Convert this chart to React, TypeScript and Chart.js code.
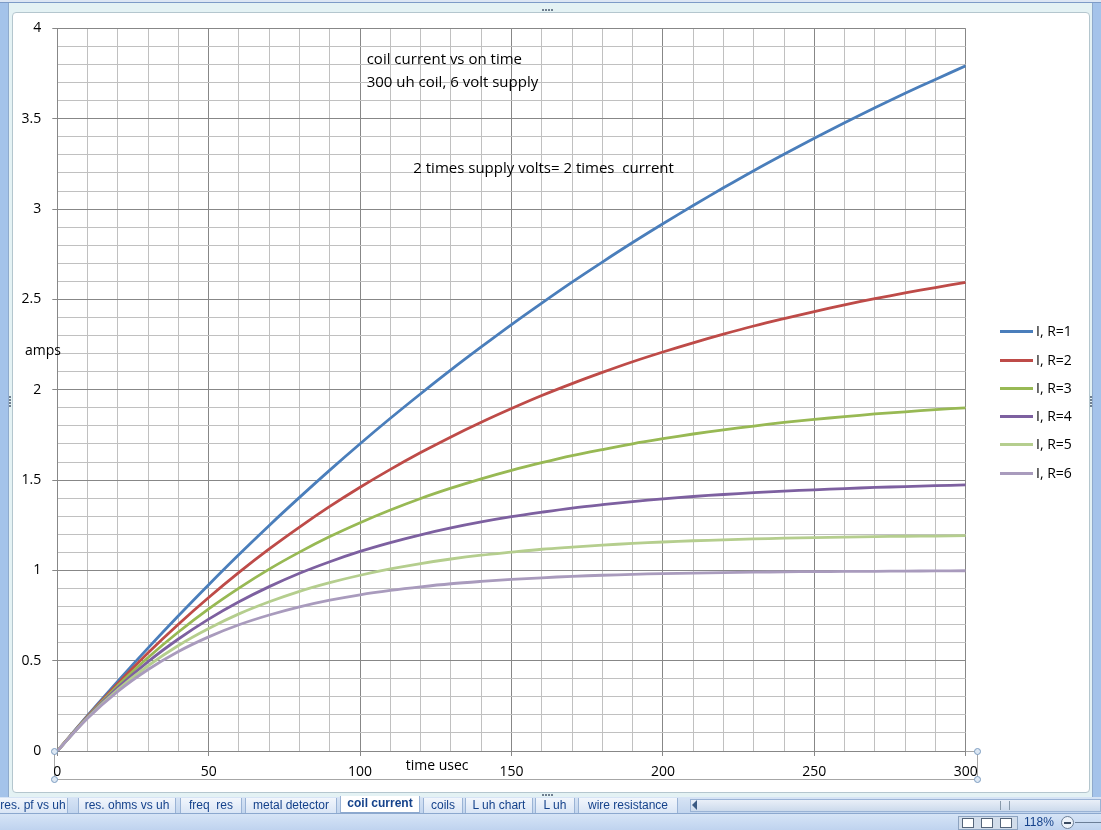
import React, { useEffect, useRef } from "react";
import { Chart, registerables } from "chart.js";

Chart.register(...registerables);

// ---- data ----
const TIME_US = [0, 10, 20, 30, 40, 50, 60, 70, 80, 90, 100, 110, 120, 130, 140, 150, 160, 170, 180, 190, 200, 210, 220, 230, 240, 250, 260, 270, 280, 290, 300];

const I_R1 = [0, 0.197, 0.387, 0.571, 0.749, 0.921, 1.088, 1.249, 1.404, 1.555, 1.701, 1.842, 1.978, 2.110, 2.237, 2.361, 2.480, 2.596, 2.707, 2.815, 2.919, 3.020, 3.118, 3.213, 3.304, 3.392, 3.478, 3.561, 3.641, 3.718, 3.793];
const I_R2 = [0, 0.193, 0.374, 0.544, 0.702, 0.850, 0.989, 1.119, 1.240, 1.354, 1.460, 1.559, 1.652, 1.739, 1.820, 1.896, 1.968, 2.034, 2.096, 2.155, 2.209, 2.260, 2.308, 2.353, 2.394, 2.433, 2.470, 2.504, 2.536, 2.566, 2.594];
const I_R3 = [0, 0.190, 0.363, 0.518, 0.659, 0.787, 0.902, 1.007, 1.101, 1.187, 1.264, 1.334, 1.398, 1.455, 1.507, 1.554, 1.596, 1.635, 1.669, 1.701, 1.729, 1.755, 1.778, 1.799, 1.819, 1.836, 1.851, 1.866, 1.878, 1.890, 1.900];
const I_R4 = [0, 0.187, 0.351, 0.495, 0.620, 0.730, 0.826, 0.910, 0.984, 1.048, 1.105, 1.154, 1.197, 1.235, 1.268, 1.297, 1.322, 1.345, 1.364, 1.381, 1.396, 1.409, 1.420, 1.430, 1.439, 1.446, 1.453, 1.459, 1.464, 1.469, 1.473];
const I_R5 = [0, 0.184, 0.340, 0.472, 0.584, 0.678, 0.759, 0.826, 0.884, 0.932, 0.973, 1.008, 1.038, 1.063, 1.084, 1.101, 1.117, 1.129, 1.140, 1.149, 1.157, 1.164, 1.169, 1.174, 1.178, 1.181, 1.184, 1.187, 1.189, 1.190, 1.192];
const I_R6 = [0, 0.181, 0.330, 0.451, 0.551, 0.632, 0.699, 0.753, 0.798, 0.835, 0.865, 0.889, 0.909, 0.926, 0.939, 0.950, 0.959, 0.967, 0.973, 0.978, 0.982, 0.985, 0.988, 0.990, 0.992, 0.993, 0.994, 0.995, 0.996, 0.997, 0.998];

const SERIES_NAMES = ["I, R=1", "I, R=2", "I, R=3", "I, R=4", "I, R=5", "I, R=6"];
const SERIES_VALUES = [I_R1, I_R2, I_R3, I_R4, I_R5, I_R6];

const X_MIN = 0;
const X_MAX = 300;
const X_MINOR_STEP = 10;
const X_MAJOR_STEP = 50;
const Y_MIN = 0;
const Y_MAX = 4;
const Y_MINOR_STEP = 0.1;
const Y_MAJOR_STEP = 0.5;

const ANNOTATIONS = ["coil current vs on time", "300 uh coil, 6 volt supply", "2 times supply volts= 2 times  current"];
const Y_TITLE = "amps";
const X_TITLE = "time usec";
const SHEET_TABS = ["res. pf vs uh", "res. ohms vs uh", "freq  res", "metal detector", "coil current", "coils", "L uh chart", "L uh", "wire resistance"];
const ZOOM_TEXT = "118%";

// ---- styles ----
const COLORS = ["#4A7EBB", "#BE4B48", "#98B954", "#7D60A0", "#B5CE8E", "#A99BBD"];
const FONT = "'Open Sans', 'DejaVu Sans', sans-serif";
const MAJOR_GRID = "#878787";
const MINOR_GRID = "#C0C0C0";

const isMultiple = (v: number, step: number) => {
  const r = v / step;
  return Math.abs(r - Math.round(r)) < 1e-6;
};

const abs = (l: number, t: number, w: number, h: number, extra: React.CSSProperties = {}): React.CSSProperties => ({
  position: "absolute",
  left: l,
  top: t,
  width: w,
  height: h,
  boxSizing: "border-box",
  ...extra,
});

const textStyle = (l: number, t: number, extra: React.CSSProperties = {}): React.CSSProperties => ({
  position: "absolute",
  left: l,
  top: t,
  font: `14px ${FONT}`,
  lineHeight: "20px",
  color: "#000",
  whiteSpace: "pre",
  ...extra,
});

export default function App() {
  const canvasRef = useRef<HTMLCanvasElement | null>(null);

  useEffect(() => {
    if (!canvasRef.current) return;
    const datasets = SERIES_VALUES.map((vals, i) => ({
      label: SERIES_NAMES[i],
      data: TIME_US.map((t, k) => ({ x: t, y: vals[k] })),
      borderColor: COLORS[i],
      backgroundColor: COLORS[i],
      borderWidth: 2.8,
      pointRadius: 0,
      tension: 0.35,
      fill: false,
      order: SERIES_VALUES.length - i,
    }));

    const chart = new Chart(canvasRef.current, {
      type: "line",
      data: { datasets },
      options: {
        animation: false,
        responsive: false,
        devicePixelRatio: 1,
        layout: { padding: { left: 0, top: 28.5, right: 1101 - 965.7, bottom: 0 } },
        plugins: { legend: { display: false }, tooltip: { enabled: false }, title: { display: false } },
        scales: {
          x: {
            type: "linear",
            min: X_MIN,
            max: X_MAX,
            afterFit: (s: any) => {
              s.height = 830 - 751;
            },
            border: { color: MAJOR_GRID, width: 1 },
            grid: {
              color: (c: any) => (isMultiple(c.tick.value, X_MAJOR_STEP) ? MAJOR_GRID : MINOR_GRID),
              tickColor: (c: any) => (isMultiple(c.tick.value, X_MAJOR_STEP) ? MAJOR_GRID : "rgba(0,0,0,0)"),
              tickLength: 5,
              lineWidth: 1,
            },
            ticks: {
              stepSize: X_MINOR_STEP,
              autoSkip: false,
              maxTicksLimit: 1000,
              maxRotation: 0,
              padding: 8,
              color: "#000",
              font: { family: FONT, size: 14 },
              callback: (v: any) => (isMultiple(Number(v), X_MAJOR_STEP) ? String(v) : ""),
            },
          },
          y: {
            type: "linear",
            min: Y_MIN,
            max: Y_MAX,
            afterFit: (s: any) => {
              s.width = 57.3;
            },
            border: { color: MAJOR_GRID, width: 1 },
            grid: {
              color: (c: any) => (isMultiple(c.tick.value, Y_MAJOR_STEP) ? MAJOR_GRID : MINOR_GRID),
              tickColor: (c: any) => (isMultiple(c.tick.value, Y_MAJOR_STEP) ? MAJOR_GRID : "rgba(0,0,0,0)"),
              tickLength: 5,
              lineWidth: 1,
            },
            ticks: {
              stepSize: Y_MINOR_STEP,
              autoSkip: false,
              maxTicksLimit: 1000,
              padding: 11,
              color: "#000",
              font: { family: FONT, size: 14 },
              callback: (v: any) => {
                const n = Number(v);
                return isMultiple(n, Y_MAJOR_STEP) ? String(Math.round(n * 10) / 10) : "";
              },
            },
          },
        },
      },
    });
    return () => chart.destroy();
  }, []);

  const legendTop = 321.2;
  const legendStep = 28.3;

  const tabPos = [
    [-2, 70],
    [78, 98],
    [180, 62],
    [245, 92],
    [340, 80],
    [423, 40],
    [465, 68],
    [535, 40],
    [578, 100],
  ];

  const handle = (x: number, y: number, key: string) => (
    <div
      key={key}
      style={abs(x - 3.5, y - 3.5, 7, 7, {
        borderRadius: "50%",
        background: "#DCE7F3",
        border: "1px solid #7C9CC0",
      })}
    />
  );

  const annot: React.CSSProperties = { font: `15px ${FONT}` };

  return (
    <div style={{ position: "fixed", left: 0, top: 0, width: 1101, height: 830, overflow: "hidden", background: "#A4C3EA" }}>
      {/* workbook frame */}
      <div style={abs(0, 0, 1101, 3, { background: "#DCE6F4", borderBottom: "1px solid #7D9BC7" })} />
      <div style={abs(8, 3, 1085, 794, { background: "#E4F2F4", borderLeft: "1px solid #8FAACC", borderRight: "1px solid #8FAACC" })} />
      <div style={abs(12, 12, 1078, 781, { background: "#FFFFFF", border: "1px solid #B4C6CE", borderRadius: 4 })} />

      {/* resize dots */}
      {[0, 1, 2, 3].map((i) => (
        <div key={"dt" + i} style={abs(542 + i * 3, 9, 2, 2, { background: "#6F7F8F" })} />
      ))}
      {[0, 1, 2, 3].map((i) => (
        <div key={"db" + i} style={abs(542 + i * 3, 794, 2, 2, { background: "#6F7F8F" })} />
      ))}
      {[0, 1, 2, 3].map((i) => (
        <div key={"dl" + i} style={abs(9, 396 + i * 3, 2, 2, { background: "#6F7F8F" })} />
      ))}
      {[0, 1, 2, 3].map((i) => (
        <div key={"dr" + i} style={abs(1090, 396 + i * 3, 2, 2, { background: "#6F7F8F" })} />
      ))}

      {/* x-axis selection box */}
      <div style={abs(53.5, 751, 924, 29, { border: "1px solid #A6A6A6" })} />

      <canvas ref={canvasRef} width={1101} height={830} style={{ position: "absolute", left: 0, top: 0, width: 1101, height: 830 }} />

      {handle(54, 751, "h1")}
      {handle(54, 779.5, "h2")}
      {handle(977, 751, "h3")}
      {handle(977, 779.5, "h4")}

      {/* annotations */}
      <div style={textStyle(366.7, 48.3, annot)}>{ANNOTATIONS[0]}</div>
      <div style={textStyle(366.7, 70.7, annot)}>{ANNOTATIONS[1]}</div>
      <div style={textStyle(413.3, 157.3, annot)}>{ANNOTATIONS[2]}</div>
      <div style={textStyle(25, 339.5)}>{Y_TITLE}</div>
      <div style={textStyle(405.7, 755.2)}>{X_TITLE}</div>

      {/* legend */}
      {SERIES_NAMES.map((name, i) => (
        <React.Fragment key={name}>
          <div style={abs(1000, legendTop + 10.5 + i * legendStep - 1.5, 33, 3, { background: COLORS[i] })} />
          <div style={textStyle(1036, legendTop + i * legendStep)}>{name}</div>
        </React.Fragment>
      ))}

      {/* sheet tabs */}
      <div style={abs(0, 797, 1101, 17, { background: "linear-gradient(#D7E4F5, #C2D5EE)", borderBottom: "1px solid #8CA8CE" })} />
      {SHEET_TABS.map((t, i) => {
        const active = i === 4;
        const [l, w] = tabPos[i];
        return (
          <div
            key={t}
            style={abs(l, active ? 796 : 798, w, active ? 17 : 15, {
              background: active ? "#FFFFFF" : "linear-gradient(#F2F6FC, #D9E5F5)",
              borderLeft: "1px solid #9AB3D5",
              borderRight: "1px solid #9AB3D5",
              borderBottom: active ? "1px solid #8CA8CE" : "none",
              font: `${active ? "bold " : ""}12px 'Liberation Sans', Arial, sans-serif`,
              color: "#15428B",
              lineHeight: "15px",
              textAlign: "center",
              whiteSpace: "pre",
            })}
          >
            {t}
          </div>
        );
      })}
      <div style={abs(690, 799, 411, 13, { background: "linear-gradient(#E9EFF8, #CCDAEC)", border: "1px solid #9AB3D5" })} />
      <div style={abs(1000, 801, 10, 9, { borderLeft: "1px solid #8899AA", borderRight: "1px solid #8899AA" })} />
      <div style={{ position: "absolute", left: 692, top: 800, width: 0, height: 0, borderTop: "5px solid transparent", borderBottom: "5px solid transparent", borderRight: "5px solid #3B5A82" }} />

      {/* status bar */}
      <div style={abs(0, 814, 1101, 16, { background: "linear-gradient(#D6E4F6, #BFD3EF)" })} />
      <div style={abs(958, 816, 60, 14, { background: "#D2DDEB", border: "1px solid #8DA3C0" })} />
      <div style={abs(962, 818, 12, 10, { border: "1px solid #55657A", background: "#FFF" })} />
      <div style={abs(981, 818, 12, 10, { border: "1px solid #55657A", background: "#FFF" })} />
      <div style={abs(1000, 818, 12, 10, { border: "1px solid #55657A", background: "#FFF" })} />
      <div style={{ position: "absolute", left: 1024, top: 815, font: "12px 'Liberation Sans', Arial, sans-serif", color: "#15428B", lineHeight: "15px" }}>{ZOOM_TEXT}</div>
      <div style={abs(1061, 816, 13, 13, { borderRadius: "50%", border: "1px solid #6B7E97", background: "#EEF3FA" })} />
      <div style={abs(1064, 822, 7, 2, { background: "#3A4A60" })} />
      <div style={abs(1075, 822, 26, 1, { background: "#6B7E97" })} />
    </div>
  );
}
